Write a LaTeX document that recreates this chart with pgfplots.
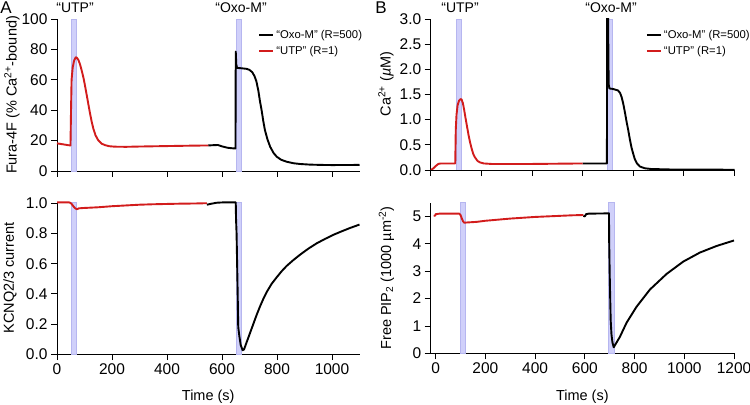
\documentclass[border=0pt]{standalone}
\usepackage{fontspec}
\setmainfont{Liberation Sans}
\usepackage{pgfplots}
\pgfplotsset{compat=1.18}
\definecolor{cred}{RGB}{210,28,28}
\definecolor{bandfill}{RGB}{208,208,250}
\definecolor{banddraw}{RGB}{182,182,240}
\pgfplotsset{
  myaxis/.style={
    scale only axis,
    axis lines*=left,
    axis line style={-, line width=0.8bp},
    tick align=outside,
    major tick length=6bp,
    tick style={black, line width=0.8bp},
    every tick label/.append style={font=\fontsize{15.5bp}{18bp}\selectfont},
    label style={font=\fontsize{14.5bp}{17bp}\selectfont},
    /pgf/number format/assume math mode=true,
    /pgf/number format/1000 sep={},
    scaled ticks=false,
    legend cell align=left,
    legend style={draw=none, fill=none, inner sep=0pt, row sep=2bp,
      font=\fontsize{11.3bp}{13.5bp}\selectfont},
    legend image code/.code={\draw[##1, line width=2bp] (0bp,0bp) -- (14bp,0bp);},
  },
  band/.style={fill=bandfill, draw=banddraw, line width=0.5bp, forget plot},
  blk/.style={black, line width=1.9bp, line join=round},
  rd/.style={cred, line width=1.9bp, line join=round},
}
\begin{document}
\begin{tikzpicture}
\useasboundingbox (0,0) rectangle (750bp,405bp);
% ---------------- Panel A top
\begin{axis}[myaxis, at={(57bp,234bp)}, anchor=south west,
  width=302.5bp, height=152bp, clip=false,
  xmin=0, xmax=1100, ymin=0, ymax=100,
  xtick={0,200,400,600,800,1000}, xticklabels={},
  ytick={0,20,40,60,80,100},
  ylabel={Fura-4F (\% Ca\textsuperscript{2+}-bound)},
  ylabel style={at={(axis description cs:-0.149,0.5)}, anchor=center},
  legend style={at={(axis description cs:0.665,0.94)}, anchor=north west}]
\addplot[band] coordinates {(50,0) (70,0) (70,100) (50,100)} --cycle;
\addplot[band] coordinates {(650,0) (670,0) (670,100) (650,100)} --cycle;
\addplot[blk] coordinates {(550,16.8) (570,17.0) (585,17.1) (600,16.2) (620,15.3) (640,14.9) (649,14.8) (650,78.5) (652,70) (655,67.8) (670,67.6) (690,67.2) (700,66.5) (710,65) (718,62.5) (725,59) (732,53) (738,46) (744,40) (750,33) (756,27) (765,21) (775,16) (787,12) (799,9.4) (815,7.4) (835,6.1) (860,5.1) (884,4.6) (920,4.2) (960,4.0) (1000,3.9) (1100,4.0)};
\addlegendentry{“Oxo-M” (R=500)}
\addplot[rd] coordinates {(0,18.2) (20,17.6) (40,17.0) (49,16.8) (51,40) (53,60) (57,68) (62,72.5) (68,74.8) (72,74.6) (78,73) (84,70) (90,66) (96,61.5) (102,56) (108,50) (114,44) (120,38) (126,32.5) (132,28) (140,23.5) (150,20.2) (162,18) (175,17) (190,16.3) (210,16.0) (250,15.9) (300,16.1) (400,16.4) (500,16.7) (550,16.8)};
\addlegendentry{“UTP” (R=1)}
\end{axis}
% ---------------- Panel A bottom
\begin{axis}[myaxis, at={(57bp,51bp)}, anchor=south west,
  width=302.5bp, height=152bp, clip=false,
  xmin=0, xmax=1100, ymin=0, ymax=1.01,
  xtick={0,200,400,600,800,1000},
  ytick={0,0.2,0.4,0.6,0.8,1.0},
  yticklabel style={/pgf/number format/.cd, fixed, fixed zerofill, precision=1},
  xlabel={Time (s)},
  xlabel style={at={(axis description cs:0.5,0)}, yshift=-43bp, anchor=center},
  ylabel={KCNQ2/3 current},
  ylabel style={at={(axis description cs:-0.155,0.5)}, anchor=center}]
\addplot[band] coordinates {(50,0) (70,0) (70,1.01) (50,1.01)} --cycle;
\addplot[band] coordinates {(650,0) (670,0) (670,1.01) (650,1.01)} --cycle;
\addplot[blk] coordinates {(545,0.992) (560,0.998) (580,1.005) (600,1.007) (650,1.007) (651,0.9) (653,0.8) (655,0.6) (657,0.4) (659,0.18) (663,0.12) (668,0.06) (675,0.025) (680,0.03) (690,0.08) (700,0.13) (714,0.2) (726,0.26) (738,0.315) (750,0.365) (762,0.41) (780,0.465) (799,0.51) (817,0.55) (835,0.585) (860,0.625) (884,0.66) (914,0.7) (944,0.735) (975,0.765) (1005,0.792) (1035,0.815) (1065,0.837) (1100,0.86)};
\addplot[rd] coordinates {(0,1.007) (45,1.007) (52,1.0) (58,0.985) (65,0.97) (72,0.962) (80,0.968) (95,0.97) (150,0.975) (200,0.982) (250,0.987) (300,0.992) (350,0.995) (400,0.997) (450,0.999) (500,1.0) (545,1.002)};
\end{axis}
% ---------------- Panel B top
\begin{axis}[myaxis, at={(430.7bp,235bp)}, anchor=south west,
  width=303.8bp, height=151bp,
  xmin=0, xmax=1200, ymin=0, ymax=3,
  xtick={0,200,400,600,800,1000,1200}, xticklabels={},
  ytick={0,0.5,1.0,1.5,2.0,2.5,3.0},
  yticklabel style={/pgf/number format/.cd, fixed, fixed zerofill, precision=1},
  ylabel={Ca\textsuperscript{2+} (\textit{µ}M)},
  ylabel style={at={(axis description cs:-0.147,0.57)}, anchor=center},
  legend style={at={(axis description cs:0.708,0.94)}, anchor=north west}]
\addplot[band] coordinates {(100,0) (120,0) (120,3) (100,3)} --cycle;
\addplot[band] coordinates {(698,0) (718,0) (718,3) (698,3)} --cycle;
\addplot[blk] coordinates {(600,0.13) (696,0.13) (697,3.3) (700,3.3) (703,1.7) (706,1.62) (720,1.61) (740,1.58) (748,1.53) (754,1.45) (760,1.33) (767,1.15) (774,0.95) (780,0.8) (787,0.6) (793,0.45) (800,0.32) (806,0.22) (815,0.13) (826,0.07) (845,0.035) (870,0.02) (950,0.01) (1200,0.005)};
\addlegendentry{“Oxo-M” (R=500)}
\addplot[rd] coordinates {(0,0.0) (10,0.03) (20,0.08) (30,0.12) (40,0.13) (60,0.13) (97,0.13) (99,0.8) (102,1.1) (106,1.28) (112,1.38) (118,1.41) (122,1.40) (127,1.33) (132,1.2) (138,1.02) (144,0.85) (150,0.68) (156,0.54) (162,0.42) (168,0.32) (175,0.25) (185,0.18) (195,0.15) (210,0.13) (240,0.12) (400,0.12) (600,0.13)};
\addlegendentry{“UTP” (R=1)}
\end{axis}
% ---------------- Panel B bottom
\begin{axis}[myaxis, at={(430.7bp,51.7bp)}, anchor=south west,
  width=303.3bp, height=150.6bp, clip=false,
  xmin=-20, xmax=1200, ymin=0, ymax=5.5,
  xtick={0,200,400,600,800,1000,1200},
  ytick={0,1,2,3,4,5},
  xlabel={Time (s)},
  xlabel style={at={(axis description cs:0.5,0)}, yshift=-43bp, anchor=center},
  ylabel={Free PIP\textsubscript{2} (1000 µm\textsuperscript{-2})},
  ylabel style={at={(axis description cs:-0.146,0.5)}, anchor=center}]
\addplot[band] coordinates {(98,0) (120,0) (120,5.5) (98,5.5)} --cycle;
\addplot[band] coordinates {(695,0) (717,0) (717,5.5) (695,5.5)} --cycle;
\addplot[blk] coordinates {(594,5.02) (600,5.0) (605,5.08) (615,5.1) (697,5.11) (698,4.0) (700,2.9) (702,2.0) (704,1.2) (707,0.7) (711,0.4) (716,0.22) (720,0.28) (741,0.6) (768,1.12) (808,1.7) (862,2.33) (929,2.9) (996,3.35) (1063,3.68) (1130,3.92) (1200,4.12)};
\addplot[rd] coordinates {(-8,5.02) (-2,5.03) (0,5.08) (15,5.1) (95,5.1) (100,5.05) (105,4.93) (110,4.82) (115,4.77) (130,4.78) (165,4.8) (200,4.84) (250,4.88) (300,4.92) (350,4.95) (400,4.98) (450,5.0) (500,5.02) (550,5.04) (594,5.05)};
\end{axis}
% ---------------- annotations
\node[font=\fontsize{17bp}{20bp}\selectfont] at (6bp,397.5bp) {A};
\node[font=\fontsize{17bp}{20bp}\selectfont] at (381bp,397.5bp) {B};
\node[font=\fontsize{14bp}{17bp}\selectfont] at (75bp,397bp) {“UTP”};
\node[font=\fontsize{14bp}{17bp}\selectfont] at (241bp,397bp) {“Oxo-M”};
\node[font=\fontsize{14bp}{17bp}\selectfont] at (460bp,397bp) {“UTP”};
\node[font=\fontsize{14bp}{17bp}\selectfont] at (611bp,397bp) {“Oxo-M”};
\end{tikzpicture}
\end{document}
